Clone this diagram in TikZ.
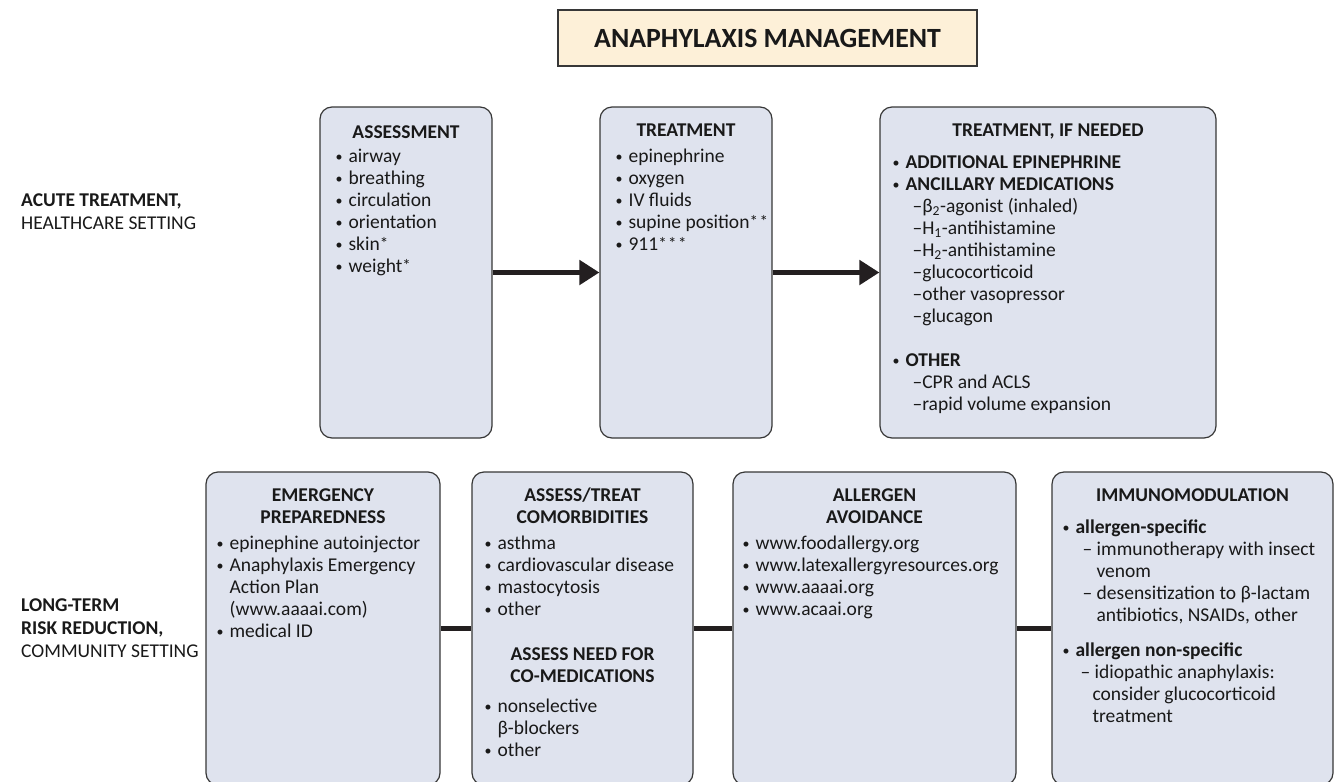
\documentclass[tikz,border=0pt]{standalone}
\usepackage{fontspec}
\setmainfont{Carlito}
\usetikzlibrary{arrows.meta,positioning}
\definecolor{anaboxfill}{RGB}{223,227,238}
\definecolor{anatitlefill}{RGB}{253,240,216}
\definecolor{anaedge}{RGB}{55,55,55}
\definecolor{analink}{RGB}{35,31,32}
\definecolor{anatext}{RGB}{25,25,25}
\newcommand{\bul}{\makebox[13pt][l]{\raisebox{1pt}{\fontsize{14}{14}\selectfont•}}}
\newcommand{\stars}[1]{{\fontsize{17}{17}\selectfont\raisebox{0.5pt}{#1}}}
\newcommand{\rows}[2][l]{\begin{tabular}[t]{@{}#1@{}}#2\end{tabular}}

\begin{document}
\begin{tikzpicture}[x=1pt,y=-1pt,
  font=\fontsize{19.5}{22}\selectfont, text=anatext,
  box/.style={draw=anaedge, line width=1.2pt, fill=anaboxfill, rounded corners=12pt, inner sep=0pt},
  titlebox/.style={draw=anaedge, line width=1.2pt, fill=anatitlefill, minimum width=419pt, minimum height=56pt,
    font=\fontsize{27.8}{30}\bfseries},
  head/.style={anchor=base, inner sep=0pt, font=\fontsize{19.5}{22}\selectfont\bfseries},
  list/.style={anchor=base west, inner sep=0pt},
  sidelabel/.style={anchor=base west, inner sep=0pt, font=\fontsize{19.5}{23}\selectfont},
  arrowlink/.style={draw=analink, line width=5pt, -{Triangle[length=20pt,width=24pt]}},
  link/.style={draw=analink, line width=5pt}]
  \path[use as bounding box, clip] (0,0) rectangle (1334,782);

  % title
  \node[titlebox] (title) at (767.5,38) {ANAPHYLAXIS MANAGEMENT};

  % side labels
  \node[sidelabel] (acute) at (21,206) {\rows{\textbf{ACUTE TREATMENT,}\\HEALTHCARE SETTING}};
  \node[sidelabel] (longterm) at (21,611) {\rows{\textbf{LONG-TERM}\\\textbf{RISK REDUCTION,}\\COMMUNITY SETTING}};

  % acute treatment row
  \node[box, minimum width=172pt, minimum height=331pt] (assess) at (406,272.5) {};
  \node[box, minimum width=172pt, minimum height=331pt] (treat) at (686,272.5) {};
  \node[box, minimum width=336pt, minimum height=331pt] (ifneed) at (1048,272.5) {};

  \node[head] (assesshead) at ([shift={(0,32)}]assess.north) {ASSESSMENT};
  \node[list] (assesslist) at ([shift={(16,56)}]assess.north west) {\rows{%
    \bul airway\\\bul breathing\\\bul circulation\\\bul orientation\\
    \bul skin\stars{*}\\\bul weight\stars{*}}};

  \node[head] (treathead) at ([shift={(0,30)}]treat.north) {TREATMENT};
  \node[list] (treatlist) at ([shift={(16,56)}]treat.north west) {\rows{%
    \bul epinephrine\\\bul oxygen\\\bul IV fluids\\
    \bul supine position\stars{*\kern1.5pt*}\\\bul 911\stars{*\kern1.5pt*\kern1.5pt*}}};

  \node[head] (ifneedhead) at ([shift={(0,30)}]ifneed.north) {TREATMENT, IF NEEDED};
  \node[list] (ifneedlist) at ([shift={(13,62)}]ifneed.north west) {\rows{%
    \bul\textbf{ADDITIONAL EPINEPHRINE}\\
    \bul\textbf{ANCILLARY MEDICATIONS}\\
    \hspace*{20pt}–β\textsubscript{2}-agonist (inhaled)\\
    \hspace*{20pt}–H\textsubscript{1}-antihistamine\\
    \hspace*{20pt}–H\textsubscript{2}-antihistamine\\
    \hspace*{20pt}–glucocorticoid\\
    \hspace*{20pt}–other vasopressor\\
    \hspace*{20pt}–glucagon\\[22pt]
    \bul\textbf{OTHER}\\
    \hspace*{20pt}–CPR and ACLS\\
    \hspace*{20pt}–rapid volume expansion}};

  \draw[arrowlink] (assess) -- (treat);
  \draw[arrowlink] (treat) -- (ifneed);

  % long-term risk reduction row
  \node[box, minimum width=234pt, minimum height=313pt] (prep) at (323,628.5) {};
  \node[box, minimum width=221pt, minimum height=313pt] (comorb) at (582.5,628.5) {};
  \node[box, minimum width=283pt, minimum height=313pt] (avoid) at (874.5,628.5) {};
  \node[box, minimum width=281pt, minimum height=313pt] (immuno) at (1192.5,628.5) {};

  \node[head] (prephead) at ([shift={(0,30)}]prep.north) {\rows[c]{EMERGENCY\\PREPAREDNESS}};
  \node[list] (preplist) at ([shift={(11,78)}]prep.north west) {\rows{%
    \bul epinephine autoinjector\\
    \bul Anaphylaxis Emergency\\
    \hspace*{13pt}Action Plan\\
    \hspace*{13pt}(www.aaaai.com)\\
    \bul medical ID}};

  \node[head] (comorbhead) at ([shift={(0,30)}]comorb.north) {\rows[c]{ASSESS/TREAT\\COMORBIDITIES}};
  \node[list] (comorblist) at ([shift={(13,78)}]comorb.north west) {\rows{%
    \bul asthma\\\bul cardiovascular disease\\\bul mastocytosis\\\bul other}};
  \node[head] (comedhead) at ([shift={(0,189)}]comorb.north) {\rows[c]{ASSESS NEED FOR\\CO-MEDICATIONS}};
  \node[list] (comedlist) at ([shift={(13,241)}]comorb.north west) {\rows{%
    \bul nonselective\\\hspace*{13pt}β-blockers\\\bul other}};

  \node[head] (avoidhead) at ([shift={(0,30)}]avoid.north) {\rows[c]{ALLERGEN\\AVOIDANCE}};
  \node[list] (avoidlist) at ([shift={(10,78)}]avoid.north west) {\rows{%
    \bul www.foodallergy.org\\\bul www.latexallergyresources.org\\\bul www.aaaai.org\\\bul www.acaai.org}};

  \node[head] (immunohead) at ([shift={(0,30)}]immuno.north) {IMMUNOMODULATION};
  \node[list] (immunolist) at ([shift={(11,62)}]immuno.north west) {\rows{%
    \bul\textbf{allergen-specific}\\
    \hspace*{20pt}– immunotherapy with insect\\
    \hspace*{34pt}venom\\
    \hspace*{20pt}– desensitization to β-lactam\\
    \hspace*{34pt}antibiotics, NSAIDs, other\\[13pt]
    \bul\textbf{allergen non-specific}\\
    \hspace*{18pt}– idiopathic anaphylaxis:\\
    \hspace*{30pt}consider glucocorticoid\\
    \hspace*{30pt}treatment}};

  \draw[link] (prep) -- (comorb);
  \draw[link] (comorb) -- (avoid);
  \draw[link] (avoid) -- (immuno);
\end{tikzpicture}
\end{document}
